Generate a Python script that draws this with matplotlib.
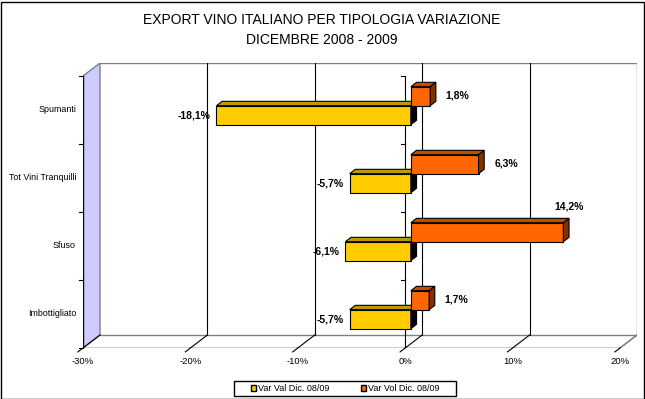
import matplotlib
matplotlib.use("Agg")
import matplotlib.pyplot as plt
from matplotlib.patches import Patch, Rectangle

plt.rcParams['font.family'] = ['Liberation Sans', 'DejaVu Sans']

# dati
categorie = ['Imbottigliato', 'Sfuso', 'Tot Vini Tranquilli', 'Spumanti']
var_val = [-5.7, -6.1, -5.7, -18.1]
var_vol = [1.7, 14.2, 6.3, 1.8]
etichette_val = ['-5,7%', '-6,1%', '-5,7%', '-18,1%']
etichette_vol = ['1,7%', '14,2%', '6,3%', '1,8%']
tick_x = [-30, -20, -10, 0, 10, 20]
tick_lab = ['-30%', '-20%', '-10%', '0%', '10%', '20%']
nomi_serie = ['Var Val Dic. 08/09', 'Var Vol Dic. 08/09']

# colori (fronte, sopra, lato)
giallo = ('#FFCC00', '#BF9900', '#000000')
arancio = ('#FF6600', '#C04C00', '#803300')

W, H = 645, 399
fig = plt.figure(figsize=(W / 100, H / 100), dpi=100)
fig.patches.append(Rectangle((0.5 / W, 0.5 / H), 1 - 2 / W, 1 - 2 / H, transform=fig.transFigure,
                             fill=False, edgecolor='black', linewidth=1))

# profondita' del 3D in unita' dati
px_x = 10.74  # pixel per 1%
px_y = 68.0   # pixel per categoria
DX = 17 / px_x
DY = 13 / px_y
xmin, xmax = -30, 20
ncat = len(categorie)

ax = fig.add_axes([83 / W, 1 - 348 / H, 554 / W, 285 / H])
ax.set_xlim(xmin, xmax + DX)
ax.set_ylim(0, ncat + DY)
ax.axis('off')

grigio = '#808080'
# parete sinistra
ax.fill([xmin, xmin, xmin + DX, xmin + DX], [0, ncat, ncat + DY, DY],
        facecolor='#CCCCFF', edgecolor=grigio, linewidth=1, zorder=1)
ax.plot([xmin, xmin], [0, ncat], color='black', lw=1, zorder=2)
# bordi parete di fondo e pavimento
ax.plot([xmin + DX, xmax + DX, xmax + DX], [ncat + DY, ncat + DY, DY], color=grigio, lw=1, zorder=1)
ax.plot([xmin + DX, xmax + DX], [DY, DY], color=grigio, lw=1, zorder=1)
ax.plot([xmax, xmax + DX], [0, DY], color=grigio, lw=1, zorder=1)
for t in tick_x:
    ax.plot([t, t + DX], [0, DY], color=grigio if t == xmax else 'black', lw=0.8, zorder=1)
    ax.plot([t, t - DX * 0.3], [0, -DY * 0.3], color='black', lw=0.8, zorder=1, clip_on=False)
    if xmin < t < xmax:
        ax.plot([t + DX, t + DX], [DY, ncat + DY], color='black', lw=0.8, zorder=1)
ax.plot([xmin, xmax], [0, 0], color='black', lw=1, zorder=2)
for lab, t in zip(tick_lab, tick_x):
    ax.annotate(lab, (t, 0), xytext=(0, -13), textcoords='offset pixels',
                ha='center', va='center', fontsize=6.8, annotation_clip=False)

# asse categorie
ax.plot([0, 0], [0, ncat], color='black', lw=0.8, zorder=2)
tk = 4 / px_x
for k in range(ncat + 1):
    ax.plot([xmin - tk, xmin], [k, k], color='black', lw=0.8, zorder=2, clip_on=False)
    if k > 0:
        ax.plot([-tk, 0], [k, k], color='black', lw=0.8, zorder=2)
for i, c in enumerate(categorie):
    ax.annotate(c, (xmin, i + 0.5), xytext=(-7, 0), textcoords='offset pixels',
                ha='right', va='center', fontsize=6.4, annotation_clip=False)

# barre 3D
d, e = DX / 3, DY / 3
h = 19 / px_y


def barra(v, y0, col, z):
    y1 = y0 + h
    ax.barh(y0 + e, v, left=d, height=h, align='edge', color=col[0],
            edgecolor='black', linewidth=0.8, zorder=z)
    ax.fill([v + d, d, 2 * d, v + 2 * d], [y1 + e, y1 + e, y1 + 2 * e, y1 + 2 * e],
            facecolor=col[1], edgecolor='black', linewidth=0.8, zorder=z)
    xs = v + d if v > 0 else d
    ax.fill([xs, xs, xs + d, xs + d], [y0 + e, y1 + e, y1 + 2 * e, y0 + 2 * e],
            facecolor=col[2], edgecolor='black', linewidth=0.8, zorder=z)


for i in range(ncat):
    c = i + 0.5
    barra(var_val[i], c - h, giallo, 3 + i * 2)
    barra(var_vol[i], c, arancio, 4 + i * 2)
    ax.annotate(etichette_val[i], (var_val[i] + d, c - h / 2 + e), xytext=(-6, 0),
                textcoords='offset pixels', ha='right', va='center',
                fontsize=7.5, fontweight='bold', zorder=20)
    if var_vol[i] > 10:
        ax.annotate(etichette_vol[i], (var_vol[i] + 2 * d, c + h + 2 * e), xytext=(0, 12),
                    textcoords='offset pixels', ha='center', va='center',
                    fontsize=7.5, fontweight='bold', zorder=20)
    else:
        ax.annotate(etichette_vol[i], (var_vol[i] + 2 * d, c + h / 2 + e), xytext=(10, 1),
                    textcoords='offset pixels', ha='left', va='center',
                    fontsize=7.5, fontweight='bold', zorder=20)

fig.text(322 / W, 1 - 20 / H, 'EXPORT VINO ITALIANO PER TIPOLOGIA VARIAZIONE',
         ha='center', va='center', fontsize=10)
fig.text(322 / W, 1 - 40 / H, 'DICEMBRE 2008 - 2009', ha='center', va='center', fontsize=10)

maniglie = [Patch(facecolor=giallo[0], edgecolor='black'), Patch(facecolor=arancio[0], edgecolor='black')]
fig.legend(maniglie, nomi_serie, loc='center', bbox_to_anchor=(345 / W, 1 - 388.5 / H),
           ncol=2, fontsize=6.5, frameon=False, handlelength=0.6, handleheight=0.6,
           handletextpad=0.2, columnspacing=3.5, borderpad=0.25, borderaxespad=0)
fig.patches.append(Rectangle((234 / W, 1 - 396 / H), 222 / W, 15 / H, transform=fig.transFigure,
                             fill=False, edgecolor='black', linewidth=1))

fig.savefig('out.png', dpi=100)
